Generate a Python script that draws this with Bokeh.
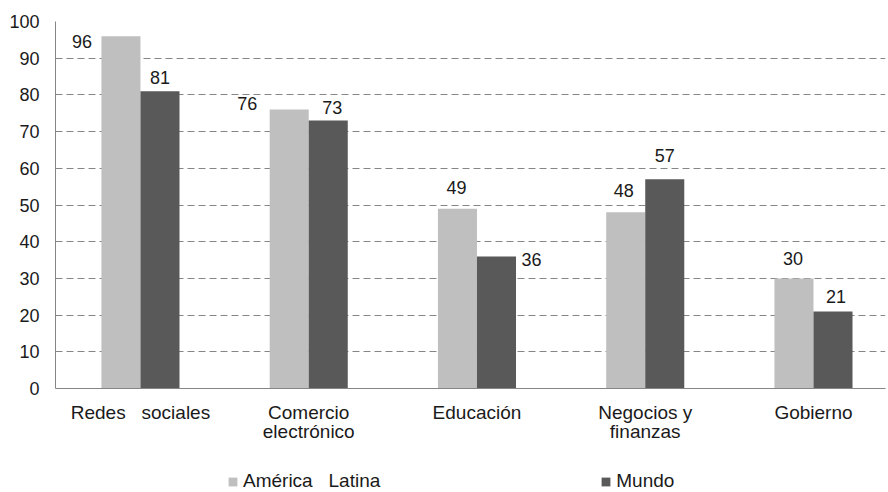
from bokeh.plotting import figure
from bokeh.layouts import column
from bokeh.models import Range1d, FixedTicker, Legend, LegendItem, ColumnDataSource
from bokeh.embed import file_html
from bokeh.resources import INLINE
from bokeh.core.properties import value

# ---- data ----
categories = ["Redes \u00a0 sociales", "Comercio\nelectrónico", "Educación", "Negocios y\nfinanzas", "Gobierno"]
series_names = ["América \u00a0 Latina", "Mundo"]
america_latina = [96, 76, 49, 48, 30]
mundo = [81, 73, 36, 57, 21]
y_ticks = [0, 10, 20, 30, 40, 50, 60, 70, 80, 90, 100]

# label placement (screen px offsets, as in the original)
label_dx_al = [-39, -42, -1, -2, -1]
label_dy_al = [5, -6, -21, -22, -20]
label_dx_m = [0, 4, 35, 0, 3]
label_dy_m = [-14, -13, 3, -24, -15]

FONT = "Liberation Sans"
TXT = "#1a1a1a"
LIGHT = "#BFBFBF"
DARK = "#595959"
AXIS = "#868686"
BW = 0.232
W = 886

idx = list(range(len(categories)))

p = figure(width=W, height=463, output_backend="svg", toolbar_location=None,
           x_range=Range1d(-0.505, 4.428), y_range=Range1d(0, 100),
           min_border_left=55, min_border_top=21, min_border_right=1, min_border_bottom=75)
p.outline_line_color = None
p.background_fill_color = "white"

src_al = ColumnDataSource(dict(x=[i - BW / 2 for i in idx], top=america_latina,
                               lbl=[str(v) for v in america_latina], dx=label_dx_al, dy=label_dy_al))
src_m = ColumnDataSource(dict(x=[i + BW / 2 for i in idx], top=mundo,
                              lbl=[str(v) for v in mundo], dx=label_dx_m, dy=label_dy_m))

p.vbar(x="x", top="top", width=BW, bottom=0, source=src_al, fill_color=LIGHT, line_color=None)
p.vbar(x="x", top="top", width=BW, bottom=0, source=src_m, fill_color=DARK, line_color=None)

for src in (src_al, src_m):
    p.text(x="x", y="top", text="lbl", x_offset="dx", y_offset="dy", source=src,
           text_align="center", text_baseline="middle", text_font=value(FONT),
           text_font_size="18px", text_color=TXT)

# axes
p.xaxis.ticker = FixedTicker(ticks=idx)
p.xaxis.major_label_overrides = {i: c for i, c in zip(idx, categories)}
p.xaxis.axis_line_color = AXIS
p.xaxis.major_tick_line_color = None
p.xaxis.minor_tick_line_color = None
p.xaxis.major_tick_out = 0
p.xaxis.major_tick_in = 0
p.xaxis.major_label_standoff = 13
p.xaxis.major_label_text_font = FONT
p.xaxis.major_label_text_font_size = "19px"
p.xaxis.major_label_text_line_height = 0.95
p.xaxis.major_label_text_color = TXT

p.yaxis.ticker = FixedTicker(ticks=y_ticks)
p.yaxis.axis_line_color = AXIS
p.yaxis.major_tick_line_color = None
p.yaxis.minor_tick_line_color = None
p.yaxis.major_tick_out = 0
p.yaxis.major_tick_in = 0
p.yaxis.major_label_standoff = 16
p.yaxis.major_label_text_font = FONT
p.yaxis.major_label_text_font_size = "18px"
p.yaxis.major_label_text_color = TXT

p.xgrid.grid_line_color = None
p.ygrid.grid_line_color = AXIS
p.ygrid.grid_line_dash = "7 4"
p.ygrid.grid_line_width = 1

# legend strip below the chart (its frame is aligned with the chart's frame)
pl = figure(width=W, height=27, output_backend="svg", toolbar_location=None,
            x_range=Range1d(0, 1), y_range=Range1d(0, 1), min_border=0)
pl.outline_line_color = None
pl.axis.visible = False
pl.grid.visible = False
lg_al = pl.vbar(x=[-10], top=[0], width=0.1, fill_color=LIGHT, line_color=None)
lg_m = pl.vbar(x=[-10], top=[0], width=0.1, fill_color=DARK, line_color=None)

legend = Legend(items=[LegendItem(label=series_names[0], renderers=[lg_al]),
                       LegendItem(label=series_names[1], renderers=[lg_m])],
                orientation="horizontal", location=(172, -2),
                glyph_width=11, glyph_height=11, label_standoff=5, spacing=220,
                padding=0, margin=0, border_line_color=None, background_fill_alpha=0,
                label_text_font=FONT, label_text_font_size="19px", label_text_color=TXT)
pl.add_layout(legend, "center")

open("out.html", "w").write(file_html(column(p, pl, spacing=0), INLINE))
